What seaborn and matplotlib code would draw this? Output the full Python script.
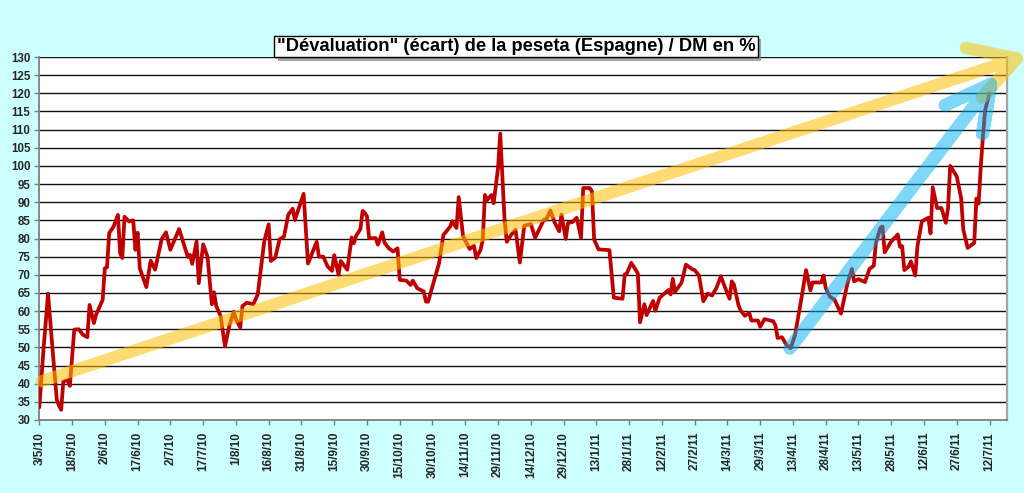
import numpy as np
import pandas as pd
import matplotlib
matplotlib.use("Agg")
import matplotlib.pyplot as plt
import matplotlib.dates as mdates
import matplotlib.patheffects as pe
from datetime import datetime
import seaborn as sns

START = "2010-05-03"

day_offsets = [
    0, 2, 4, 6, 8, 9, 10, 11, 13, 14, 16, 18, 20, 22, 23, 25, 26, 29, 30, 31,
    32, 34, 36, 37, 38, 39, 41, 43, 44, 45, 46, 49, 51, 53, 56, 58, 60, 64, 68, 69,
    70, 72, 73, 75, 77, 79, 80, 81, 83, 85, 87, 89, 90, 92, 93, 95, 98, 100, 103, 105,
    106, 108, 110, 112, 114, 116, 117, 121, 123, 127, 128, 130, 132, 134, 135, 137, 138, 141, 143, 144,
    145, 147, 148, 149, 150, 151, 154, 155, 157, 158, 160, 162, 164, 165, 168, 170, 171, 173, 176, 177,
    178, 180, 182, 183, 185, 186, 188, 189, 191, 192, 194, 196, 197, 199, 200, 202, 203, 204, 205, 207,
    208, 210, 211, 213, 214, 216, 218, 220, 222, 225, 227, 231, 232, 234, 236, 238, 239, 241, 242, 244,
    246, 248, 249, 252, 253, 254, 256, 261, 263, 267, 268, 269, 271, 274, 275, 277, 278, 281, 282, 284,
    288, 289, 290, 291, 294, 296, 299, 300, 302, 304, 306, 308, 310, 312, 314, 316, 317, 318, 320, 321,
    323, 325, 326, 329, 330, 332, 336, 337, 338, 340, 342, 344, 346, 349, 351, 353, 354, 358, 359, 360,
    362, 364, 367, 369, 370, 372, 373, 375, 378, 380, 382, 383, 385, 386, 387, 390, 393, 394, 395, 396,
    398, 399, 401, 402, 404, 406, 407, 408, 409, 411, 413, 415, 416, 417, 420, 422, 423, 425, 428, 429,
    430, 431, 432, 433, 435,
]

ecart_values = [
    33.5, 50.0, 64.8, 50.0, 35.6, 34.0, 32.8, 40.6, 41.0, 39.4, 54.9, 55.0, 53.5, 52.8, 61.7, 56.7, 59.0, 63.1, 71.8, 72.1,
    81.5, 83.3, 86.5, 76.0, 74.6, 86.0, 84.7, 85.0, 76.9, 81.6, 71.8, 66.6, 73.9, 71.4, 79.8, 81.7, 76.9, 82.6, 74.9, 75.5,
    73.0, 79.2, 67.7, 78.4, 75.0, 61.9, 65.2, 61.4, 58.7, 50.3, 56.0, 59.8, 57.8, 55.5, 61.4, 62.3, 61.9, 64.6, 79.3, 83.9,
    73.8, 74.7, 79.8, 80.5, 86.6, 88.2, 85.1, 92.3, 73.1, 79.1, 75.0, 75.0, 72.3, 71.1, 75.4, 70.0, 73.8, 71.4, 80.3, 78.7,
    80.7, 82.6, 87.6, 87.1, 86.1, 80.1, 80.1, 78.3, 81.7, 78.9, 77.3, 76.4, 77.3, 68.6, 68.4, 67.2, 68.4, 66.3, 65.4, 62.6,
    62.6, 66.8, 70.9, 73.2, 81.0, 81.7, 83.2, 84.7, 82.9, 91.4, 80.6, 78.3, 77.1, 78.0, 74.6, 76.9, 79.6, 92.0, 90.6, 92.0,
    89.7, 99.4, 108.9, 85.1, 79.1, 81.0, 82.4, 73.4, 83.5, 84.0, 80.2, 85.2, 85.2, 87.7, 84.3, 82.0, 86.6, 79.9, 84.3, 84.5,
    85.7, 80.2, 93.9, 93.9, 93.0, 79.7, 77.0, 76.8, 63.7, 63.4, 70.1, 70.4, 73.3, 70.4, 56.9, 61.9, 58.9, 62.8, 60.1, 63.7,
    65.8, 64.6, 68.9, 65.3, 67.8, 72.8, 71.5, 71.3, 69.8, 62.7, 64.8, 64.3, 66.4, 69.6, 66.4, 63.4, 68.2, 67.3, 61.8, 60.2,
    58.7, 59.5, 57.4, 57.4, 55.7, 57.8, 57.2, 56.0, 52.6, 52.8, 50.7, 49.8, 53.5, 63.9, 71.3, 65.7, 67.9, 67.9, 69.8, 66.4,
    63.9, 63.2, 59.3, 65.0, 67.7, 71.6, 68.2, 68.8, 68.0, 71.6, 72.5, 78.8, 82.9, 83.3, 76.2, 79.2, 81.1, 77.7, 77.9, 71.3,
    72.3, 73.7, 69.8, 77.9, 84.7, 85.4, 85.7, 81.4, 94.1, 88.4, 88.4, 84.3, 88.4, 100.0, 97.1, 91.1, 82.4, 77.4, 78.8, 91.0,
    89.6, 99.8, 108.2, 115.4, 120.0,
]

tick_labels = [
    "3/5/10", "18/5/10", "2/6/10", "17/6/10", "2/7/10", "17/7/10", "1/8/10", "16/8/10",
    "31/8/10", "15/9/10", "30/9/10", "15/10/10", "30/10/10", "14/11/10", "29/11/10",
    "14/12/10", "29/12/10", "13/1/11", "28/1/11", "12/2/11", "27/2/11", "14/3/11",
    "29/3/11", "13/4/11", "28/4/11", "13/5/11", "28/5/11", "12/6/11", "27/6/11", "12/7/11",
]
y_ticks = list(range(30, 131, 5))
title = '"Dévaluation" (écart) de la peseta (Espagne) / DM en %'

start = pd.Timestamp(START)
dates = start + pd.to_timedelta(day_offsets, unit="D")
df = pd.DataFrame({"date": dates, "ecart": ecart_values})
tick_dates = [datetime.strptime(t, "%d/%m/%y") for t in tick_labels]

sns.set_style("white")
plt.rcParams["font.family"] = ["Liberation Sans", "DejaVu Sans"]

fig = plt.figure(figsize=(10.24, 4.93), dpi=100)
fig.patch.set_facecolor("#CCFFFF")
ax = fig.add_axes([39.3 / 1024, 73 / 493, (1007 - 39.3) / 1024, (420 - 57) / 493])
ax.set_facecolor("white")

sns.lineplot(data=df, x="date", y="ecart", ax=ax, color="#C00000", lw=2.7,
             estimator=None, sort=False, zorder=3)

ax.set_xlim(start, start + pd.Timedelta(days=443))
ax.set_ylim(30, 130)
ax.set_yticks(y_ticks)
ax.set_yticklabels([str(v) for v in y_ticks], fontsize=8.3, fontweight="bold")
ax.set_xticks(tick_dates)
ax.set_xticklabels(tick_labels, rotation=90, fontsize=8.5, fontweight="bold")
ax.set_xlabel("")
ax.set_ylabel("")
ax.grid(axis="y", color="#111111", lw=1.0, zorder=1)
ax.grid(axis="x", visible=False)
ax.set_axisbelow(True)
for s in ["left", "bottom"]:
    ax.spines[s].set_color("#7F7F7F")
    ax.spines[s].set_linewidth(1.3)
ax.spines["right"].set_color("#A6A6A6")
ax.spines["right"].set_linewidth(1.6)
ax.spines["top"].set_visible(False)
ax.tick_params(axis="both", direction="out", length=3.5, width=1, color="#7F7F7F",
               pad=5, left=True, bottom=True)
ax.tick_params(axis="y", pad=3)


def draw_arrow(ax, p_start, p_tip, color, alpha, lw, head_len, head_ang, z):
    tr = ax.transData
    p0 = tr.transform([p_start])[0]
    p1 = tr.transform([p_tip])[0]
    d = p1 - p0
    d = d / np.hypot(*d)
    back = -d
    pts = [p0, p1]
    for sgn in (1, -1):
        a = np.radians(head_ang) * sgn
        r = np.array([back[0] * np.cos(a) - back[1] * np.sin(a),
                      back[0] * np.sin(a) + back[1] * np.cos(a)])
        pts += [p1 + head_len * r, p1]
    pts = tr.inverted().transform(np.array(pts[:-1]))
    ax.plot(pts[:, 0], pts[:, 1], color=color, alpha=alpha, lw=lw,
            solid_capstyle="round", solid_joinstyle="round", clip_on=False, zorder=z)


def dnum(days):
    return mdates.date2num(start + pd.Timedelta(days=days))


# yellow long-term trend arrow
draw_arrow(ax, (dnum(1.2), 40.7), (dnum(447.5), 129.6), "#FFC000", 0.55, 8.8, 52, 30, 4)
# blue recent trend arrow
draw_arrow(ax, (dnum(343.6), 49.8), (dnum(435.5), 122.5), "#00B0F0", 0.5, 9.5, 50, 28, 5)

t = fig.text(516 / 1024, 1 - 46.5 / 493, title, ha="center", va="center",
             fontsize=13.2, fontweight="bold", color="black",
             bbox=dict(boxstyle="square,pad=0.12", fc="white", ec="black", lw=1))
t.get_bbox_patch().set_path_effects([
    pe.SimplePatchShadow(offset=(2.5, -2.5), shadow_rgbFace="#808080", alpha=0.7),
    pe.Normal()])

fig.savefig("out.png", dpi=100, facecolor=fig.get_facecolor())
